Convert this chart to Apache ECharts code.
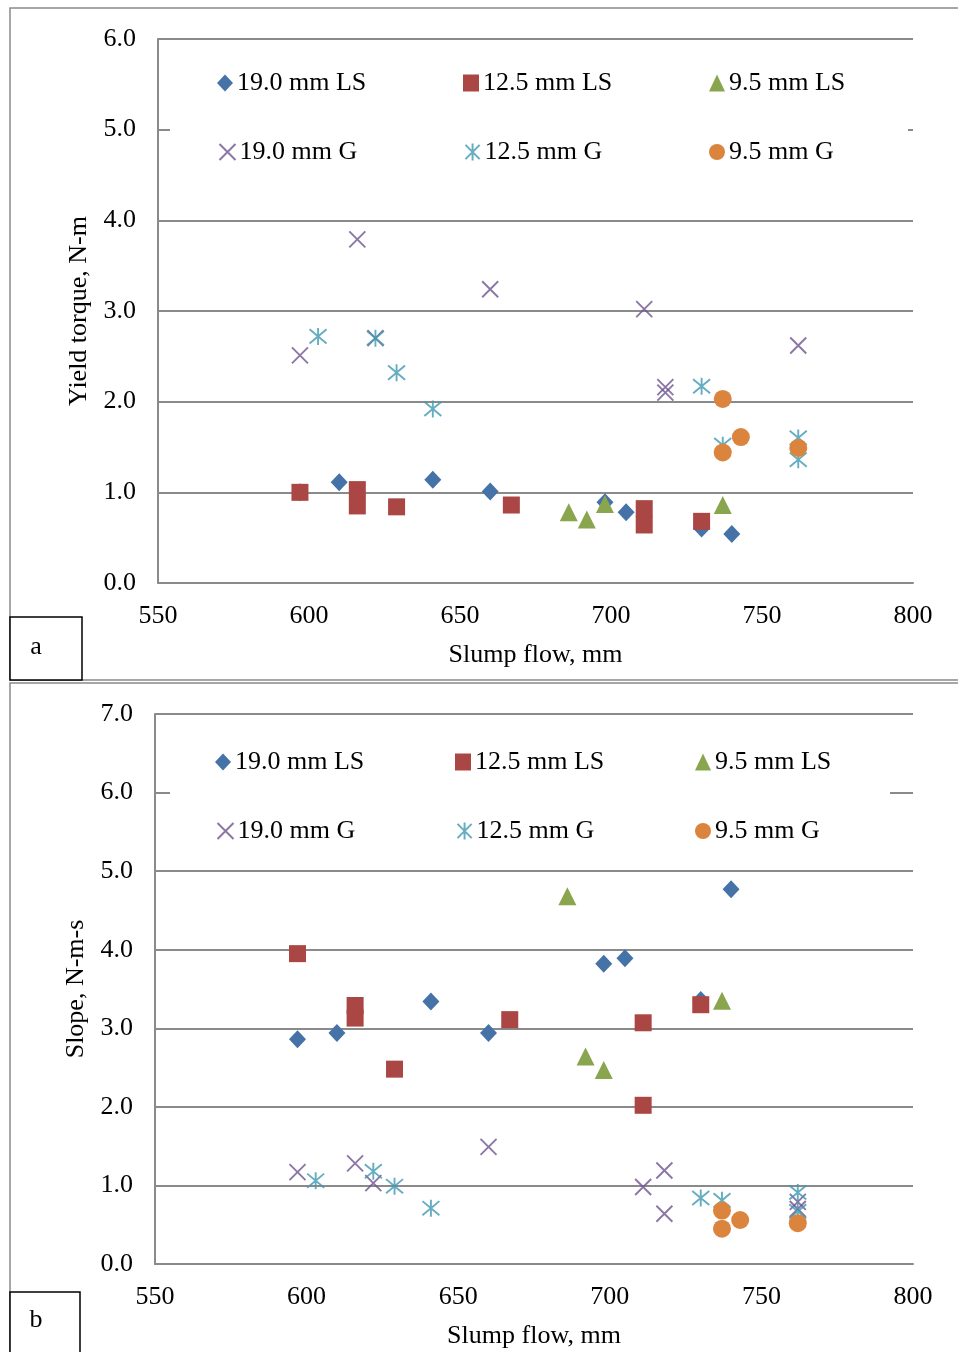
<!DOCTYPE html>
<html>
<head>
<meta charset="utf-8">
<script src="https://cdn.jsdelivr.net/npm/echarts@6/dist/echarts.min.js"></script>
<style>
html,body{margin:0;padding:0;background:#fff;}
#chart{width:958px;height:1352px;}
</style>
</head>
<body>
<div id="chart"></div>
<script>
// ---- Data (slump flow mm, value) ----
const seriesNames = ['19.0 mm LS', '12.5 mm LS', '9.5 mm LS', '19.0 mm G', '12.5 mm G', '9.5 mm G'];

// Panel a: Yield torque, N-m
const ls19A  = [[597,1.00],[610,1.11],[641,1.14],[660,1.01],[698,0.89],[705,0.78],[730,0.60],[740,0.54]];
const ls125A = [[597,1.00],[616,1.03],[616,0.85],[629,0.84],[667,0.86],[711,0.82],[711,0.64],[730,0.68]];
const ls95A  = [[686,0.78],[692,0.70],[698,0.87],[737,0.86]];
const g19A   = [[597,2.51],[616,3.79],[622,2.70],[660,3.24],[711,3.02],[718,2.16],[718,2.10],[762,2.62]];
const g125A  = [[603,2.72],[622,2.70],[629,2.32],[641,1.92],[730,2.17],[737,1.52],[762,1.60],[762,1.36]];
const g95A   = [[737,2.03],[737,1.44],[743,1.61],[762,1.49]];

// Panel b: Slope, N-m-s
const ls19B  = [[597,2.86],[610,2.94],[641,3.34],[660,2.94],[698,3.82],[705,3.89],[730,3.36],[740,4.77]];
const ls125B = [[597,3.95],[616,3.29],[616,3.13],[629,2.48],[667,3.11],[711,3.07],[711,2.02],[730,3.30]];
const ls95B  = [[686,4.68],[692,2.64],[698,2.47],[737,3.35]];
const g19B   = [[597,1.17],[616,1.28],[622,1.03],[660,1.49],[711,0.98],[718,1.19],[718,0.64],[762,0.79],[762,0.70]];
const g125B  = [[603,1.06],[622,1.18],[629,0.99],[641,0.71],[730,0.84],[737,0.81],[762,0.91],[762,0.67]];
const g95B   = [[737,0.68],[737,0.45],[743,0.56],[762,0.52]];

const xTitle = 'Slump flow, mm';
const yTitleA = 'Yield torque, N-m';
const yTitleB = 'Slope, N-m-s';

// ---- Styles ----
const FONT = 'Liberation Serif';
const FS = 26;
const GRAY = '#8a8a8a';
const colors = ['#4572A7', '#AA4643', '#89A54E', '#6F548F', '#3F98B0', '#DB843D'];
const symbols = [
  'diamond', 'rect', 'triangle',
  'path://M0,0L10,10M10,0L0,10',
  'path://M0,0L10,10M10,0L0,10M5,-1L5,11',
  'circle'
];
const sizes = [[17,18], 17, 18, 16, 17, 18];

function mkSeries(name, idx, data, axisIdx) {
  const stroke = idx === 3 || idx === 4;
  return {
    type: 'scatter',
    name: name,
    xAxisIndex: axisIdx,
    yAxisIndex: axisIdx,
    data: data,
    symbol: symbols[idx],
    symbolSize: sizes[idx],
    itemStyle: stroke
      ? { color: 'none', borderColor: colors[idx], borderWidth: 1.9 }
      : { color: colors[idx], opacity: 1 },
    emphasis: { disabled: true },
    z: 3
  };
}

const dataA = [ls19A, ls125A, ls95A, g19A, g125A, g95A];
const dataB = [ls19B, ls125B, ls95B, g19B, g125B, g95B];
const series = [];
seriesNames.forEach((n, i) => series.push(mkSeries(n, i, dataA[i], 0)));
seriesNames.forEach((n, i) => series.push(mkSeries(n, i, dataB[i], 1)));

// legends: one per item
const legendPosA = { cols: [217, 463, 709], rows: [70, 139] };
const legendPosB = { cols: [215, 455, 695], rows: [749, 818] };
function mkLegends(pos) {
  const out = [];
  seriesNames.forEach((n, i) => {
    out.push({
      data: [n],
      left: pos.cols[i % 3],
      top: pos.rows[Math.floor(i / 3)],
      padding: 0,
      itemWidth: 16,
      itemHeight: 17,
      itemGap: 0,
      selectedMode: false,
      textStyle: { fontFamily: FONT, fontSize: FS, color: '#000', padding: [0,0,0,-1] },
      z: 5
    });
  });
  return out;
}

const axisText = { fontFamily: FONT, fontSize: FS, color: '#000' };

function xAxis(gridIndex, margin, gap) {
  return {
    type: 'value', gridIndex: gridIndex, min: 550, max: 800, interval: 50,
    name: xTitle, nameLocation: 'middle', nameGap: gap,
    nameTextStyle: axisText,
    axisLine: { show: true, lineStyle: { color: GRAY, width: 2 } },
    axisTick: { show: false },
    splitLine: { show: false },
    axisLabel: Object.assign({ margin: margin }, axisText)
  };
}
function yAxis(gridIndex, max, name, gap) {
  return {
    type: 'value', gridIndex: gridIndex, min: 0, max: max, interval: 1,
    name: name, nameLocation: 'middle', nameGap: gap,
    nameTextStyle: axisText,
    axisLine: { show: true, lineStyle: { color: GRAY, width: 2 } },
    axisTick: { show: false },
    splitLine: { show: true, lineStyle: { color: GRAY, width: 2 } },
    axisLabel: Object.assign({ margin: 22, formatter: v => v.toFixed(1) }, axisText)
  };
}

const chart = echarts.init(document.getElementById('chart'), null, { renderer: 'canvas' });
chart.setOption({
  animation: false,
  backgroundColor: '#fff',
  grid: [
    { left: 158, top: 39, width: 755, height: 544 },
    { left: 155, top: 714, width: 758, height: 550 }
  ],
  xAxis: [xAxis(0, 20, 59), xAxis(1, 20, 59)],
  yAxis: [yAxis(0, 6, yTitleA, 63), yAxis(1, 7, yTitleB, 65)],
  legend: mkLegends(legendPosA).concat(mkLegends(legendPosB)),
  series: series,
  graphic: [
    { type: 'rect', z: 0, shape: { x: 10, y: 8, width: 960, height: 672 },
      style: { fill: 'none', stroke: GRAY, lineWidth: 1.5 } },
    { type: 'rect', z: 0, shape: { x: 10, y: 683, width: 960, height: 700 },
      style: { fill: 'none', stroke: GRAY, lineWidth: 1.5 } },
    { type: 'rect', z: 1, shape: { x: 170, y: 52, width: 738, height: 135 },
      style: { fill: '#fff' } },
    { type: 'rect', z: 1, shape: { x: 170, y: 735, width: 720, height: 125 },
      style: { fill: '#fff' } },
    { type: 'rect', z: 6, shape: { x: 10, y: 617, width: 72, height: 63 },
      style: { fill: '#fff', stroke: '#000', lineWidth: 1.5 } },
    { type: 'text', z: 7, x: 36, y: 647,
      style: { text: 'a', fontFamily: FONT, fontSize: FS, fill: '#000', align: 'center', verticalAlign: 'middle' } },
    { type: 'rect', z: 6, shape: { x: 10, y: 1292, width: 70, height: 70 },
      style: { fill: '#fff', stroke: '#000', lineWidth: 1.5 } },
    { type: 'text', z: 7, x: 36, y: 1320,
      style: { text: 'b', fontFamily: FONT, fontSize: FS, fill: '#000', align: 'center', verticalAlign: 'middle' } }
  ]
});
</script>
</body>
</html>
